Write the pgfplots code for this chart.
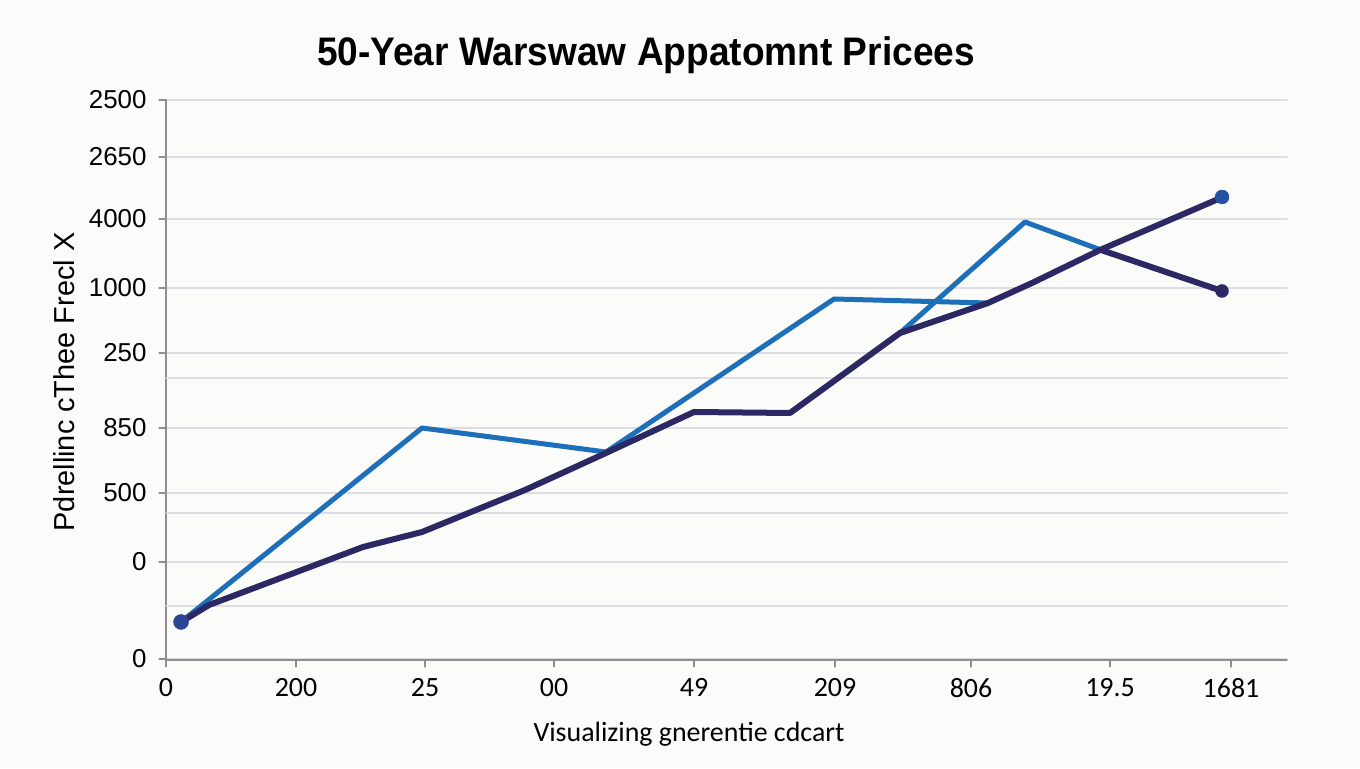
\documentclass[border=0pt]{standalone}
\usepackage{fontspec}
\setmainfont{Liberation Sans}
\newfontfamily\carlito{Carlito}
\usepackage{pgfplots}
\pgfplotsset{compat=1.18}

\definecolor{bgcol}{HTML}{FBFBF9}
\definecolor{gridgray}{HTML}{DEDEE2}
\definecolor{axisgray}{HTML}{8E8E8E}
\definecolor{lightline}{HTML}{1E6FBA}
\definecolor{darkline}{HTML}{2B2863}
\definecolor{dotblue}{HTML}{2352A4}
\definecolor{startdot}{HTML}{2A4595}

% price series, x and y in axis units
\pgfplotstableread{
x y
181 38
209 55
363 113
422 128
525 170
606 207
694 248
790 247
900 327
988 357
1032 377
1100 410
1223 463
}\darkdata

\pgfplotstableread{
x y
181 38
422 232
606 208
834 361
988 357
900 327
1025 438
1101 410
}\lightdata

\pgfplotstableread{
x y
1101 410
1222 369
}\branchdata

\begin{document}
\begin{tikzpicture}[x=1bp,y=1bp]
\fill[bgcol] (0,0) rectangle (1360,768);
\begin{axis}[
  at={(166bp,108bp)}, anchor=south west,
  scale only axis, width=1121bp, height=560bp,
  xmin=166, xmax=1287, ymin=0, ymax=560,
  clip=false,
  axis x line=bottom, axis y line=left,
  axis line style={-, draw=axisgray, line width=1.5bp},
  tick style={draw=axisgray, line width=1.2bp},
  tick align=outside,
  major tick length=7bp,
  ytick={1,98,167,232,307,372,441,503,560},
  yticklabels={0,0,500,850,250,1000,4000,2650,2500},
  extra y ticks={54,147,282},
  extra y tick labels={},
  extra y tick style={major tick length=0pt, grid=major},
  ymajorgrids,
  grid style={draw=gridgray, line width=1.5bp},
  xtick={166,296,425,554,694,835,971,1110,1231},
  xticklabels={0,200,25,00,49,209,806,19.5,1681},
  yticklabel style={font=\fontsize{26}{26}\selectfont, anchor=east, xshift=-9bp},
  xticklabel style={font=\carlito\fontsize{28}{28}\selectfont, anchor=north, yshift=-8bp},
  line join=round, line cap=round,
]
\addplot[lightline, line width=5bp] table {\lightdata};
\addplot[darkline, line width=6bp] table {\branchdata};
\addplot[darkline, line width=6bp] table {\darkdata};
\addplot[only marks, mark=*, mark size=7.5bp, mark options={draw=startdot, fill=startdot}] coordinates {(181,38)};
\addplot[only marks, mark=*, mark size=7bp, mark options={draw=dotblue, fill=dotblue}] coordinates {(1222,463)};
\addplot[only marks, mark=*, mark size=6.5bp, mark options={draw=darkline, fill=darkline}] coordinates {(1222,369)};
\end{axis}
\node[font=\fontsize{40}{40}\selectfont\bfseries] at (646,713) {\scalebox{0.93}[1]{50-Year Warswaw Appatomnt Pricees}};
\node[rotate=90, font=\fontsize{29}{29}\selectfont] at (64,386) {Pdrellinc cThee Frecl X};
\node[font=\carlito\fontsize{28}{28}\selectfont] at (689,34) {Visualizing gnerentie cdcart};
\end{tikzpicture}
\end{document}
